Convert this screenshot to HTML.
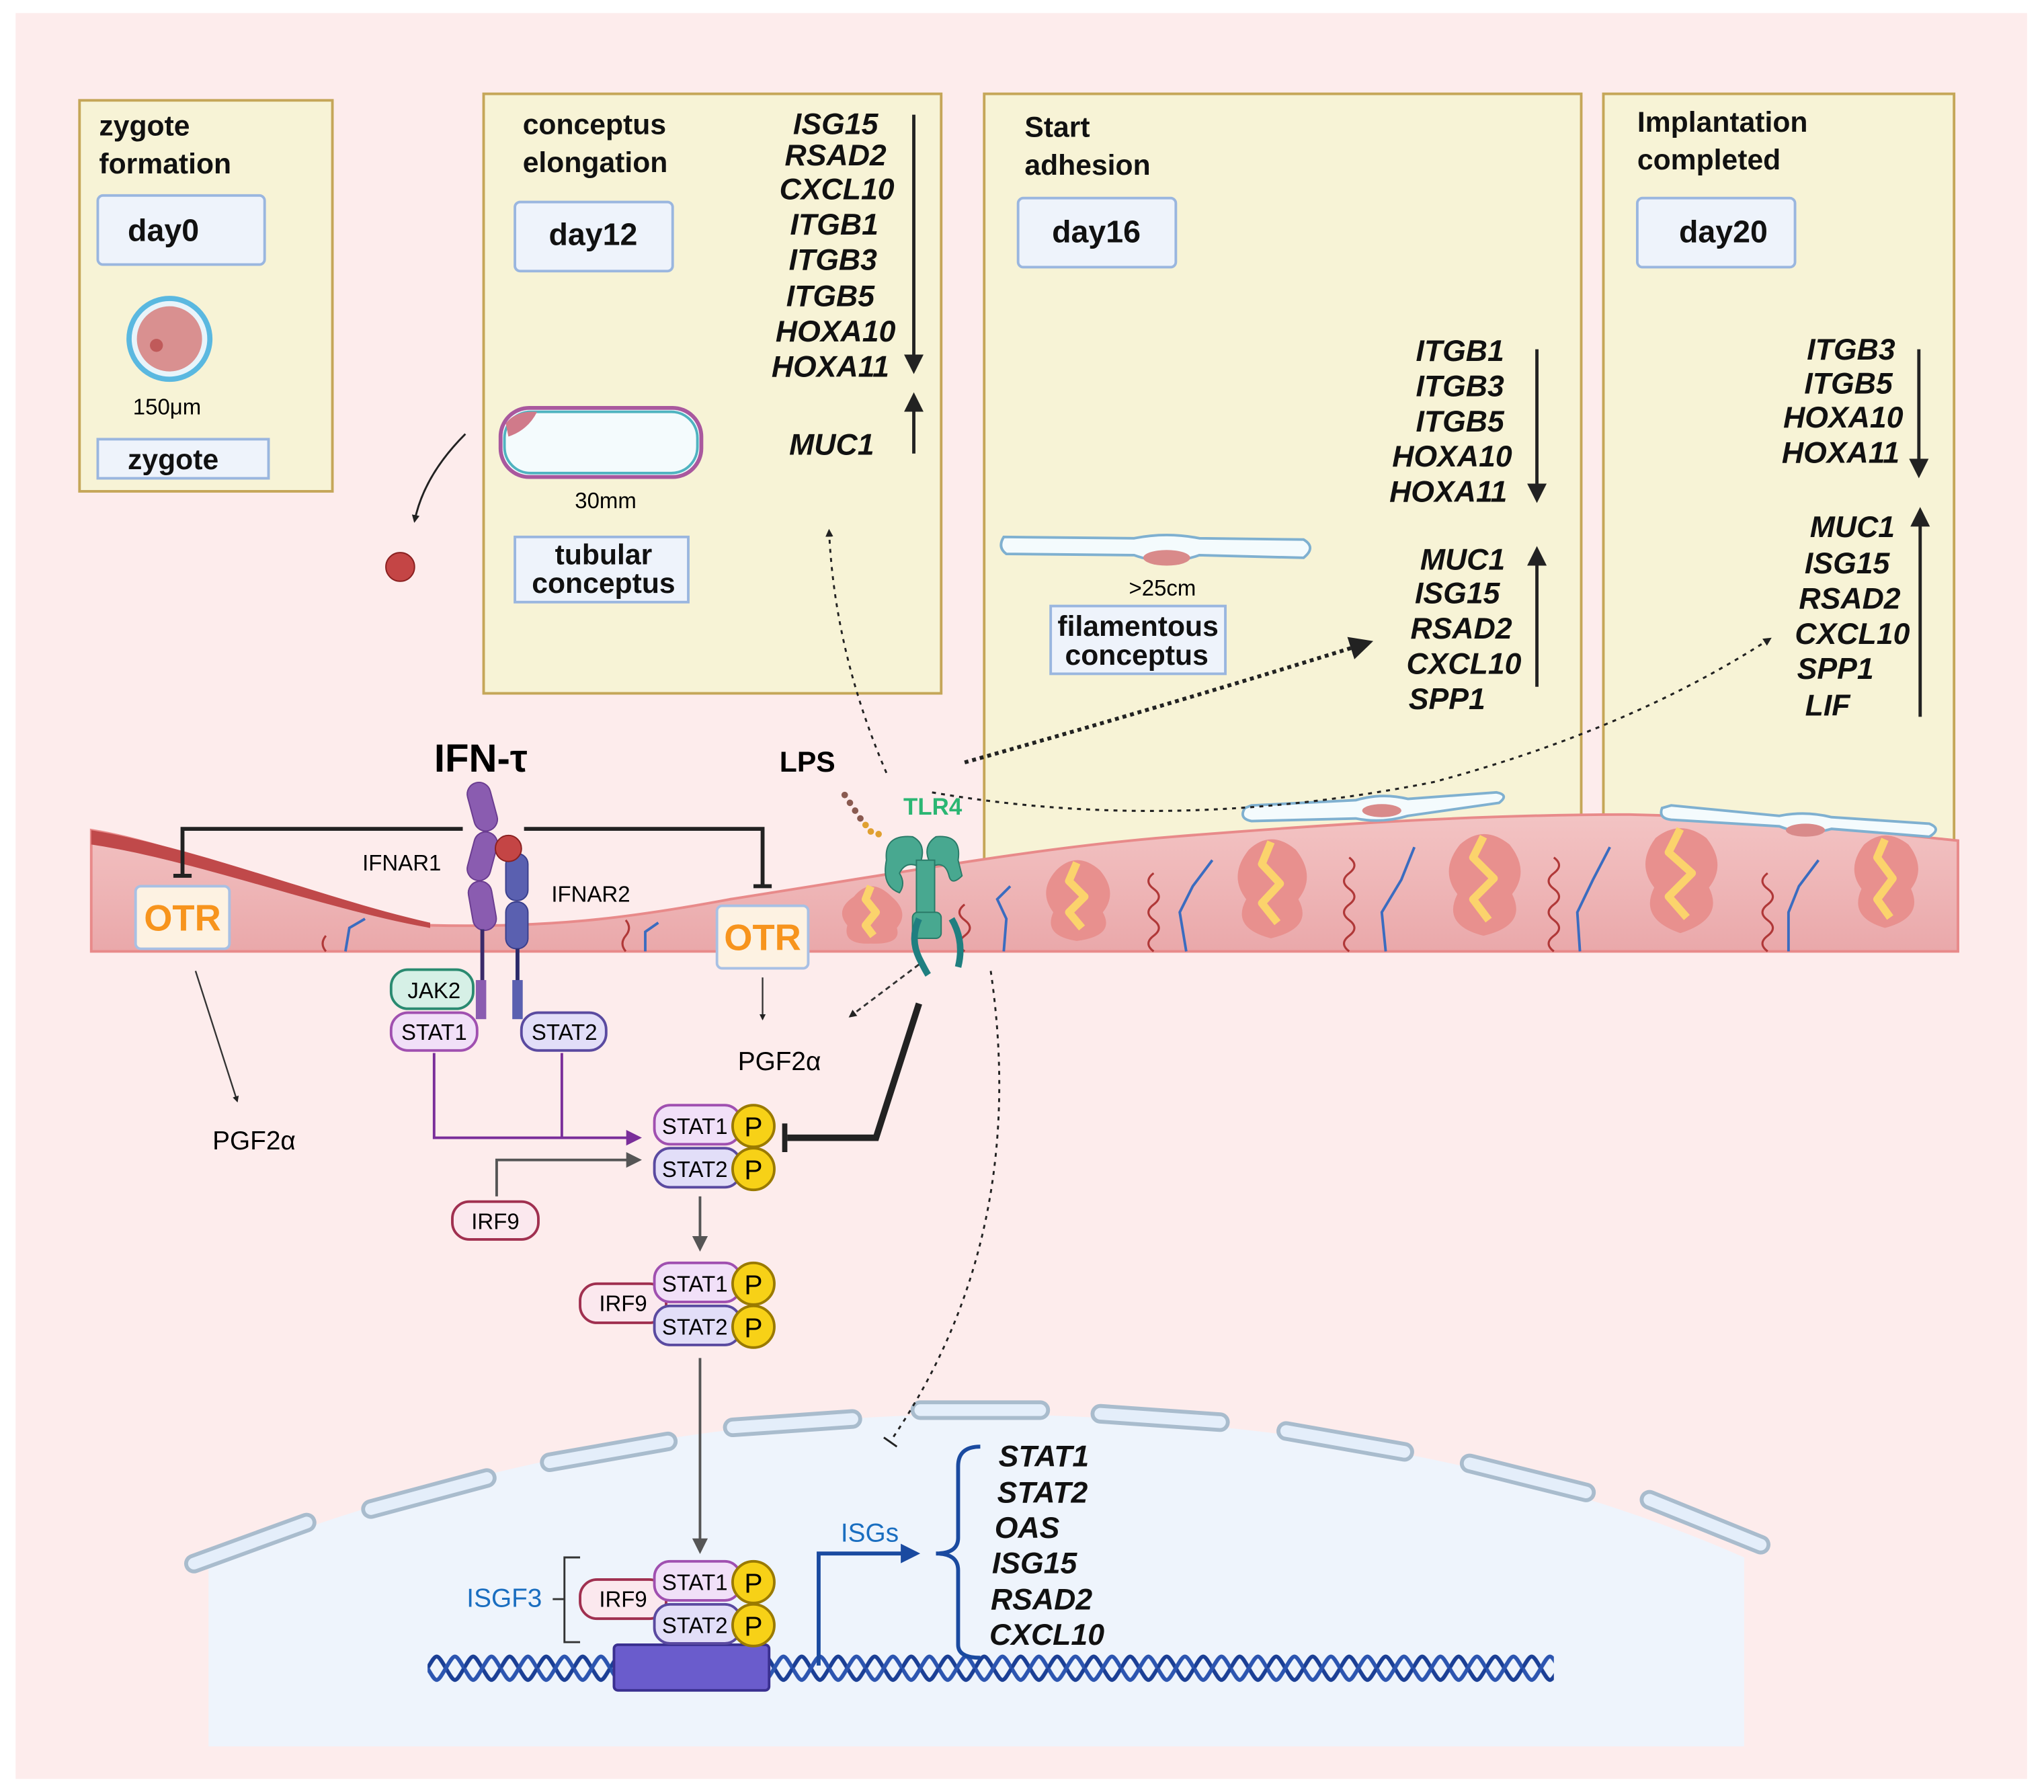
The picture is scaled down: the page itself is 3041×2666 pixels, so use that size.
<!DOCTYPE html>
<html><head><meta charset="utf-8"><style>
html,body{margin:0;padding:0;background:#fff}
svg{display:block}
text{font-family:"Liberation Sans",sans-serif}
.b{font-weight:bold}
.g{font-weight:bold;font-style:italic;font-size:23px}
</style></head><body>
<svg width="3041" height="2666" viewBox="0 0 1568 1375" preserveAspectRatio="none" xmlns="http://www.w3.org/2000/svg">
<defs>
<marker id="ah" viewBox="0 0 10 10" refX="8" refY="5" markerWidth="6" markerHeight="6" orient="auto-start-reverse"><path d="M0,0L10,5L0,10z" fill="#222"/></marker>
<marker id="ahs" viewBox="0 0 10 10" refX="8" refY="5" markerWidth="4" markerHeight="4" orient="auto"><path d="M0,0L10,5L0,10z" fill="#222"/></marker>
<marker id="ahp" viewBox="0 0 10 10" refX="8" refY="5" markerWidth="6" markerHeight="6" orient="auto"><path d="M0,0L10,5L0,10z" fill="#7a2e9a"/></marker>
<marker id="ahg" viewBox="0 0 10 10" refX="8" refY="5" markerWidth="6" markerHeight="6" orient="auto"><path d="M0,0L10,5L0,10z" fill="#555"/></marker>
<marker id="ahb" viewBox="0 0 10 10" refX="8" refY="5" markerWidth="5" markerHeight="5" orient="auto"><path d="M0,0L10,5L0,10z" fill="#1a4aa0"/></marker>
<pattern id="helix" patternUnits="userSpaceOnUse" x="328" y="1268" width="28" height="24">
<path d="M0,12 C7,0 7,0 14,12 S21,24 28,12" fill="none" stroke="#1b3f95" stroke-width="3"/>
<path d="M0,12 C7,24 7,24 14,12 S21,0 28,12" fill="none" stroke="#2c55b0" stroke-width="3"/>
</pattern>
<linearGradient id="tis" x1="0" y1="0" x2="0" y2="1"><stop offset="0" stop-color="#f3c4c4"/><stop offset="1" stop-color="#eaa8aa"/></linearGradient>
</defs>
<rect x="0" y="0" width="1568" height="1375" fill="#fff"/>
<rect x="12" y="10" width="1543" height="1355" fill="#fdecec"/>

<g fill="#f7f3d6" stroke="#c5a658" stroke-width="2">
<rect x="61" y="77" width="194" height="300"/>
<rect x="371" y="72" width="351" height="460"/>
<rect x="755" y="72" width="458" height="600"/>
<rect x="1230" y="72" width="269" height="600"/>
</g>
<g fill="#eef3fb" stroke="#9ab6df" stroke-width="2">
<rect x="75" y="150" width="128" height="53" rx="4"/>
<rect x="395" y="155" width="121" height="53" rx="4"/>
<rect x="781" y="152" width="121" height="53" rx="4"/>
<rect x="1256" y="152" width="121" height="53" rx="4"/>
<rect x="75" y="337" width="131" height="30"/>
<rect x="395" y="412" width="133" height="50"/>
<rect x="806" y="465" width="134" height="52"/>
</g>
<g class="b" font-size="22" fill="#111">
<text x="76" y="104">zygote</text><text x="76" y="133">formation</text>
<text x="401" y="103">conceptus</text><text x="401" y="132">elongation</text>
<text x="786" y="105">Start</text><text x="786" y="134">adhesion</text>
<text x="1256" y="101">Implantation</text><text x="1256" y="130">completed</text>
<text x="98" y="185" font-size="24">day0</text>
<text x="421" y="188" font-size="24">day12</text>
<text x="807" y="186" font-size="24">day16</text>
<text x="1288" y="186" font-size="24">day20</text>
<text x="98" y="360">zygote</text>
<text x="463" y="433" text-anchor="middle">tubular</text>
<text x="463" y="455" text-anchor="middle">conceptus</text>
<text x="873" y="488" text-anchor="middle">filamentous</text>
<text x="872" y="510" text-anchor="middle">conceptus</text>
</g>
<circle cx="130" cy="260" r="31" fill="#e8f4fa" stroke="#5ab8e0" stroke-width="4"/>
<circle cx="130" cy="260" r="25" fill="#d99090"/>
<circle cx="120" cy="265" r="5" fill="#c05a5a"/>
<text x="102" y="318" font-size="17">150μm</text>
<rect x="384" y="313" width="154" height="53" rx="22" fill="#f4fbfd" stroke="#a9589e" stroke-width="3"/>
<rect x="387" y="316" width="148" height="47" rx="20" fill="none" stroke="#4fb3c0" stroke-width="2"/>
<path d="M388,325 Q395,315 412,316 Q405,330 390,335z" fill="#d07a8a"/>
<text x="441" y="390" font-size="17">30mm</text>
<path d="M770,412 Q765,420 772,425 L870,426 Q895,435 920,426 L1000,428 Q1010,420 1000,414 L920,413 Q895,408 870,413z" fill="#f4fbfd" stroke="#7fb0d0" stroke-width="2"/>
<ellipse cx="895" cy="428" rx="18" ry="6" fill="#d98a8a"/>
<text x="866" y="457" font-size="17">&gt;25cm</text>

<g class="g" fill="#111" text-anchor="middle">
<text x="641" y="103">ISG15</text><text x="641" y="127">RSAD2</text><text x="642" y="153">CXCL10</text>
<text x="640" y="180">ITGB1</text><text x="639" y="207">ITGB3</text><text x="637" y="235">ITGB5</text>
<text x="641" y="262">HOXA10</text><text x="637" y="289">HOXA11</text><text x="638" y="349">MUC1</text>
<text x="1120" y="277">ITGB1</text><text x="1120" y="304">ITGB3</text><text x="1120" y="331">ITGB5</text>
<text x="1114" y="358">HOXA10</text><text x="1111" y="385">HOXA11</text>
<text x="1122" y="437">MUC1</text><text x="1118" y="463">ISG15</text><text x="1121" y="490">RSAD2</text>
<text x="1123" y="517">CXCL10</text><text x="1110" y="544">SPP1</text>
<text x="1420" y="276">ITGB3</text><text x="1418" y="302">ITGB5</text><text x="1414" y="328">HOXA10</text>
<text x="1412" y="355">HOXA11</text>
<text x="1421" y="412">MUC1</text><text x="1417" y="440">ISG15</text><text x="1419" y="467">RSAD2</text>
<text x="1421" y="494">CXCL10</text><text x="1408" y="521">SPP1</text><text x="1402" y="549">LIF</text>
</g>
<g stroke="#222" stroke-width="2.5" fill="none" marker-end="url(#ah)">
<line x1="701" y1="88" x2="701" y2="284"/>
<line x1="701" y1="348" x2="701" y2="304"/>
<line x1="1179" y1="268" x2="1179" y2="383"/>
<line x1="1179" y1="527" x2="1179" y2="422"/>
<line x1="1472" y1="268" x2="1472" y2="364"/>
<line x1="1473" y1="550" x2="1473" y2="392"/>
</g>

<path d="M70,637 C150,650 250,700 330,710 C420,712 480,705 560,690 C700,668 800,650 900,642 C1050,630 1150,625 1250,625 C1350,627 1450,640 1502,645 L1502,730 L70,730z" fill="url(#tis)" stroke="#e88a8a" stroke-width="2"/>
<path d="M70,637 C150,650 250,690 330,708 L330,712 C250,698 150,660 70,648z" fill="#c0494a"/>
<g fill="#e8908e">
<path d="M655,688 Q668,672 684,688 Q698,700 688,712 Q692,725 668,724 Q646,725 650,710 Q640,698 655,688z"/>
<path d="M810,668 Q826,652 844,668 Q858,685 846,700 Q856,718 826,722 Q800,718 808,700 Q796,684 810,668z"/>
<path d="M958,652 Q975,636 994,652 Q1010,672 996,690 Q1008,712 975,720 Q944,712 956,690 Q942,672 958,652z"/>
<path d="M1120,648 Q1138,632 1158,648 Q1174,668 1160,686 Q1172,710 1138,718 Q1106,710 1118,686 Q1104,668 1120,648z"/>
<path d="M1270,643 Q1289,628 1309,643 Q1325,663 1311,681 Q1323,705 1289,716 Q1257,705 1269,681 Q1255,663 1270,643z"/>
<path d="M1430,648 Q1446,634 1464,648 Q1478,666 1466,682 Q1476,704 1446,712 Q1418,704 1428,682 Q1416,666 1430,648z"/>
</g>
<g fill="none" stroke="#fbd36c" stroke-width="6" stroke-linejoin="round">
<polyline points="668,680 664,690 672,700 664,710 670,718"/>
<polyline points="826,662 820,676 832,688 820,700 830,712"/>
<polyline points="975,646 968,663 982,678 968,693 980,708"/>
<polyline points="1138,642 1130,658 1146,674 1130,690 1142,706"/>
<polyline points="1289,636 1280,654 1298,670 1280,688 1294,704"/>
<polyline points="1446,644 1440,658 1452,674 1440,690 1450,704"/>
</g>
<g fill="none" stroke="#3a6cc0" stroke-width="2">
<polyline points="770,730 772,705 765,690 775,680"/><polyline points="910,730 905,700 915,680 930,660"/>
<polyline points="1063,730 1060,700 1075,675 1085,650"/><polyline points="1212,730 1210,700 1222,675 1235,650"/>
<polyline points="1372,730 1372,700 1380,680 1395,660"/><polyline points="265,730 268,712 280,705"/>
<polyline points="495,730 495,715 505,708"/>
</g>
<g fill="none" stroke="#b03838" stroke-width="1.6">
<path d="M885,730 q-8,-6 0,-12 q8,-6 0,-12 q-8,-6 0,-12 q8,-6 0,-12 q-8,-6 0,-12"/>
<path d="M1035,730 q-8,-6 0,-12 q8,-6 0,-12 q-8,-6 0,-12 q8,-6 0,-12 q-8,-6 0,-12 q8,-6 0,-12"/>
<path d="M1192,730 q-8,-6 0,-12 q8,-6 0,-12 q-8,-6 0,-12 q8,-6 0,-12 q-8,-6 0,-12 q8,-6 0,-12"/>
<path d="M1356,730 q-8,-6 0,-12 q8,-6 0,-12 q-8,-6 0,-12 q8,-6 0,-12 q-8,-6 0,-12"/>
<path d="M740,730 q-8,-6 0,-12 q8,-6 0,-12 q-8,-6 0,-12"/>
<path d="M250,730 q-5,-6 0,-12"/><path d="M480,730 q-5,-6 0,-12 q5,-6 0,-12"/>
</g>
<path d="M955,620 Q950,628 960,630 L1040,628 Q1060,632 1080,626 L1150,616 Q1158,610 1148,608 L1080,613 Q1060,608 1040,614 L960,618z" fill="#f4fbfd" stroke="#7fb0d0" stroke-width="2"/>
<ellipse cx="1060" cy="622" rx="15" ry="5" fill="#d98a8a"/>
<path d="M1275,620 Q1272,628 1282,629 L1365,634 Q1385,642 1405,636 L1480,642 Q1490,636 1480,632 L1405,627 Q1385,622 1365,626 L1282,618z" fill="#f4fbfd" stroke="#7fb0d0" stroke-width="2"/>
<ellipse cx="1385" cy="637" rx="15" ry="5" fill="#d98a8a"/>

<text x="333" y="592" class="b" font-size="30">IFN-τ</text>
<text x="598" y="592" class="b" font-size="22">LPS</text>
<g fill="#8a5cb0" stroke="#6a3c90" stroke-width="1">
<rect x="361" y="600" width="18" height="38" rx="9" transform="rotate(-15 370 619)"/>
<rect x="361" y="638" width="18" height="38" rx="9" transform="rotate(15 370 657)"/>
<rect x="361" y="676" width="18" height="38" rx="9" transform="rotate(-10 370 695)"/>
</g>
<g fill="#5a60b0" stroke="#3a3f8c" stroke-width="1">
<rect x="388" y="655" width="17" height="36" rx="8"/>
<rect x="388" y="692" width="17" height="36" rx="8"/>
</g>
<circle cx="390" cy="651" r="10" fill="#c44545" stroke="#8a2020"/>
<line x1="370" y1="713" x2="370" y2="780" stroke="#3a2a6a" stroke-width="3"/>
<line x1="397" y1="728" x2="397" y2="780" stroke="#2a2a6a" stroke-width="3"/>
<rect x="365" y="752" width="8" height="30" fill="#8a5cb0"/>
<rect x="393" y="752" width="8" height="30" fill="#5a60b0"/>
<text x="278" y="668" font-size="17">IFNAR1</text>
<text x="423" y="692" font-size="17">IFNAR2</text>
<g stroke="#222" stroke-width="3" fill="none">
<polyline points="355,636 140,636 140,672"/><line x1="133" y1="672" x2="147" y2="672"/>
<polyline points="402,636 585,636 585,680"/><line x1="578" y1="680" x2="592" y2="680"/>
</g>
<rect x="104" y="680" width="72" height="48" rx="4" fill="#fdf2e2" stroke="#a8c0e4" stroke-width="2"/>
<text x="140" y="714" text-anchor="middle" class="b" font-size="28" fill="#f7941d">OTR</text>
<rect x="550" y="695" width="70" height="48" rx="4" fill="#fdf2e2" stroke="#a8c0e4" stroke-width="2"/>
<text x="585" y="729" text-anchor="middle" class="b" font-size="28" fill="#f7941d">OTR</text>
<line x1="150" y1="745" x2="182" y2="845" stroke="#333" stroke-width="1.2" marker-end="url(#ahs)"/>
<text x="163" y="882" font-size="20">PGF2α</text>
<line x1="585" y1="750" x2="585" y2="782" stroke="#333" stroke-width="1.2" marker-end="url(#ahs)"/>
<text x="566" y="821" font-size="20">PGF2α</text>
<line x1="705" y1="740" x2="652" y2="780" stroke="#333" stroke-width="1.5" stroke-dasharray="4,3" marker-end="url(#ahs)"/>

<text x="693" y="625" class="b" font-size="18" fill="#2bb673">TLR4</text>
<g fill="#48a890" stroke="#2a7a68" stroke-width="1">
<path d="M680,660 Q678,640 700,642 Q712,648 705,665 Q695,660 690,670 Q695,678 690,685 Q676,680 680,660z"/>
<path d="M735,660 Q738,640 718,642 Q706,650 715,665 Q725,660 728,672 Q730,680 738,672z"/>
<rect x="703" y="660" width="14" height="50"/>
<rect x="700" y="700" width="22" height="20" rx="4"/>
</g>
<path d="M705,705 Q698,720 705,735 Q710,745 712,748 M730,705 Q740,722 735,742" fill="none" stroke="#1f7f80" stroke-width="5"/>
<g fill="#8a5a50"><circle cx="648" cy="610" r="2.5"/><circle cx="652" cy="616" r="2.5"/><circle cx="656" cy="622" r="2.5"/><circle cx="660" cy="628" r="2.5"/></g>
<g fill="#e0a030"><circle cx="664" cy="633" r="2.5"/><circle cx="668" cy="638" r="2.5"/><circle cx="674" cy="640" r="2.5"/></g>

<g fill="none" stroke="#222" stroke-dasharray="3,4">
<path d="M680,593 Q640,500 636,407" stroke-width="1.5" marker-end="url(#ahs)"/>
<path d="M740,585 Q900,540 1050,493" stroke-width="3" stroke-dasharray="3,3" marker-end="url(#ah)"/>
<path d="M715,608 Q900,640 1100,600 Q1250,560 1358,490" stroke-width="1.6" marker-end="url(#ahs)"/>
</g>
<path d="M357,333 Q325,365 318,400" fill="none" stroke="#222" stroke-width="1.5" marker-end="url(#ahs)"/>
<circle cx="307" cy="435" r="11" fill="#c44545" stroke="#8a2020"/>

<rect x="300" y="744" width="63" height="30" rx="13" fill="#d6f0e6" stroke="#2a8a70" stroke-width="2"/>
<text x="333" y="766" text-anchor="middle" font-size="17">JAK2</text>
<rect x="300" y="777" width="66" height="29" rx="13" fill="#f1e0f8" stroke="#a050b0" stroke-width="2"/>
<text x="333" y="798" text-anchor="middle" font-size="17">STAT1</text>
<rect x="400" y="777" width="65" height="29" rx="13" fill="#e2def8" stroke="#5a4aa0" stroke-width="2"/>
<text x="433" y="798" text-anchor="middle" font-size="17">STAT2</text>
<polyline points="333,808 333,873 490,873" fill="none" stroke="#7a2e9a" stroke-width="2" marker-end="url(#ahp)"/>
<line x1="431" y1="808" x2="431" y2="873" stroke="#7a2e9a" stroke-width="2"/>
<polyline points="381,918 381,890 490,890" fill="none" stroke="#555" stroke-width="2" marker-end="url(#ahg)"/>
<rect x="347" y="922" width="66" height="29" rx="13" fill="#fbe8ee" stroke="#a03050" stroke-width="2"/>
<text x="380" y="943" text-anchor="middle" font-size="17">IRF9</text>
<polyline points="705,770 672,873 604,873" fill="none" stroke="#222" stroke-width="5"/>
<line x1="602" y1="862" x2="602" y2="884" stroke="#222" stroke-width="4"/>

<g id="c1">
<rect x="502" y="848" width="66" height="30" rx="12" fill="#f1e0f8" stroke="#a050b0" stroke-width="2"/>
<rect x="502" y="881" width="66" height="30" rx="12" fill="#e2def8" stroke="#5a4aa0" stroke-width="2"/>
<text x="533" y="870" text-anchor="middle" font-size="17">STAT1</text>
<text x="533" y="903" text-anchor="middle" font-size="17">STAT2</text>
<circle cx="578" cy="864" r="16" fill="#f7d117" stroke="#9a7a00" stroke-width="2"/>
<circle cx="578" cy="897" r="16" fill="#f7d117" stroke="#9a7a00" stroke-width="2"/>
<text x="578" y="872" text-anchor="middle" font-size="21">P</text>
<text x="578" y="905" text-anchor="middle" font-size="21">P</text>
</g>
<line x1="537" y1="918" x2="537" y2="958" stroke="#555" stroke-width="2" marker-end="url(#ahg)"/>
<rect x="445" y="985" width="66" height="30" rx="13" fill="#fbe8ee" stroke="#a03050" stroke-width="2"/>
<text x="478" y="1006" text-anchor="middle" font-size="17">IRF9</text>
<use href="#c1" transform="translate(0,121)"/>

<path d="M160,1200 Q450,1085 760,1085 Q1100,1090 1338,1195 L1338,1340 L160,1340z" fill="#eef4fc"/>
<g fill="#e4eefa" stroke="#a9bccd" stroke-width="3">
<rect x="140" y="1178" width="104" height="12" rx="6" transform="rotate(-20 192 1184)"/>
<rect x="277" y="1140" width="104" height="12" rx="6" transform="rotate(-15 329 1146)"/>
<rect x="415" y="1108" width="104" height="12" rx="6" transform="rotate(-10 467 1114)"/>
<rect x="556" y="1086" width="104" height="12" rx="6" transform="rotate(-4 608 1092)"/>
<rect x="700" y="1076" width="104" height="12" rx="6"/>
<rect x="838" y="1082" width="104" height="12" rx="6" transform="rotate(4 890 1088)"/>
<rect x="980" y="1100" width="104" height="12" rx="6" transform="rotate(10 1032 1106)"/>
<rect x="1120" y="1128" width="104" height="12" rx="6" transform="rotate(14 1172 1134)"/>
<rect x="1256" y="1162" width="104" height="12" rx="6" transform="rotate(22 1308 1168)"/>
</g>
<line x1="537" y1="1042" x2="537" y2="1190" stroke="#555" stroke-width="2" marker-end="url(#ahg)"/>
<path d="M760,745 Q790,950 683,1106" fill="none" stroke="#222" stroke-width="1.5" stroke-dasharray="3,4"/>
<line x1="678" y1="1103" x2="688" y2="1110" stroke="#222" stroke-width="1.5"/>
<rect x="328" y="1268" width="864" height="24" fill="url(#helix)"/>
<rect x="471" y="1262" width="119" height="35" rx="3" fill="#6a5ccc" stroke="#3a3090" stroke-width="2"/>
<rect x="445" y="1212" width="66" height="30" rx="13" fill="#fbe8ee" stroke="#a03050" stroke-width="2"/>
<text x="478" y="1233" text-anchor="middle" font-size="17">IRF9</text>
<use href="#c1" transform="translate(0,350)"/>
<polyline points="445,1195 433,1195 433,1260 445,1260" fill="none" stroke="#333" stroke-width="1.5"/>
<line x1="424" y1="1227" x2="433" y2="1227" stroke="#333" stroke-width="1.5"/>
<text x="358" y="1233" font-size="20" fill="#1a6ec0">ISGF3</text>
<polyline points="628,1278 628,1192 703,1192" fill="none" stroke="#1a4aa0" stroke-width="3" marker-end="url(#ahb)"/>
<text x="645" y="1183" font-size="20" fill="#1a6ec0">ISGs</text>
<path d="M752,1110 Q735,1110 735,1125 L735,1180 Q735,1192 718,1192 Q735,1192 735,1205 L735,1262 Q735,1272 752,1272" fill="none" stroke="#1a4aa0" stroke-width="3"/>
<g class="g" fill="#111">
<text x="766" y="1125">STAT1</text><text x="765" y="1153">STAT2</text><text x="763" y="1180">OAS</text>
<text x="761" y="1207">ISG15</text><text x="760" y="1235">RSAD2</text><text x="759" y="1262">CXCL10</text>
</g>
</svg>
</body></html>
